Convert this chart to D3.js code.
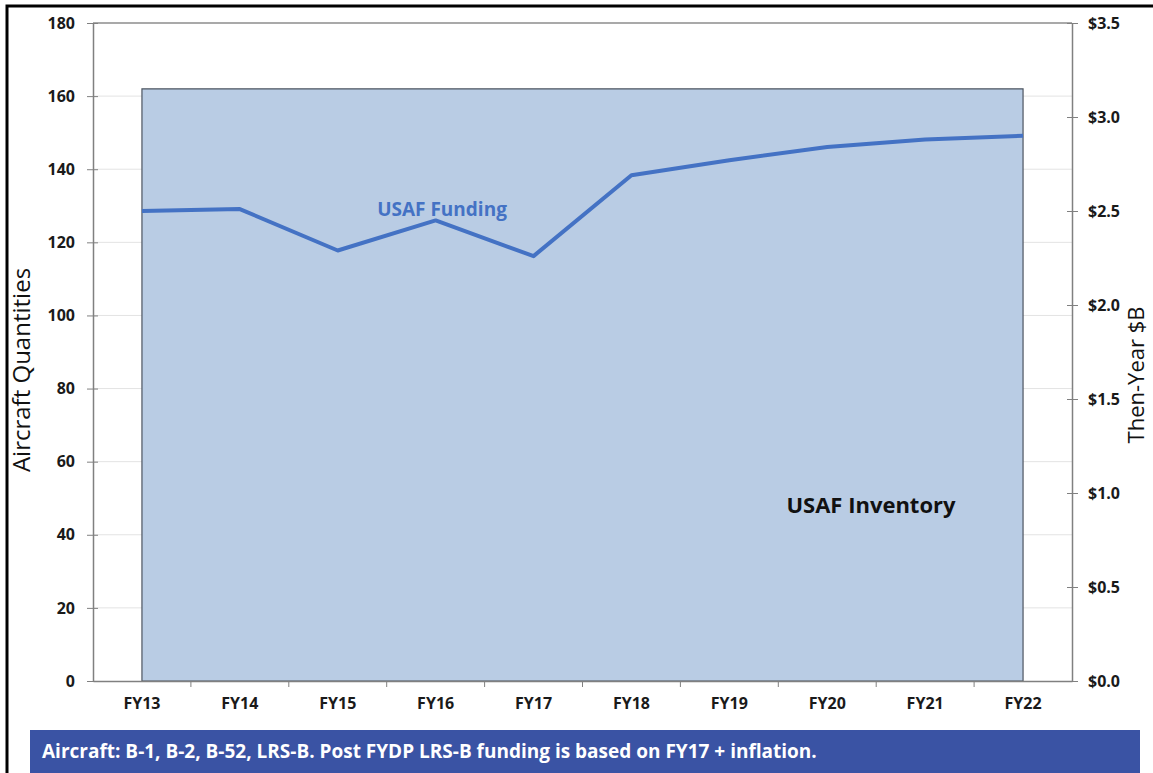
<!DOCTYPE html>
<html>
<head>
<meta charset="utf-8">
<script src="https://cdn.jsdelivr.net/npm/d3@7"></script>
<style>
  body { margin: 0; background: #fff; }
  svg text { font-family: "Open Sans", sans-serif; }
</style>
</head>
<body>
<svg class="chart" width="1153" height="773"></svg>
<script>
// data
var years = ['FY13','FY14','FY15','FY16','FY17','FY18','FY19','FY20','FY21','FY22'];
var inventory = [162,162,162,162,162,162,162,162,162,162];   // aircraft
var funding = [2.50,2.51,2.29,2.45,2.26,2.69,2.77,2.84,2.88,2.90]; // then-year $B
var leftTicks = [0,20,40,60,80,100,120,140,160,180];
var rightTicks = [0,0.5,1.0,1.5,2.0,2.5,3.0,3.5];
var footNote = 'Aircraft: B-1, B-2, B-52, LRS-B. Post FYDP LRS-B funding is based on FY17 + inflation.';

var width = 1153, height = 773;
var margin = ({ top: 23, right: 81, bottom: 92, left: 93 });

var svg = d3.select('.chart');

// outer frame
svg.append('rect')
  .attr('x', 7).attr('y', 6)
  .attr('width', width + 20).attr('height', height + 20)
  .style('fill', 'none').style('stroke', '#000').style('stroke-width', 3);

var xScale = d3.scaleBand()
  .domain(years)
  .range([margin.left, width - margin.right]);

var yLeft = d3.scaleLinear()
  .domain([0, 180])
  .range([height - margin.bottom, margin.top]);

var yRight = d3.scaleLinear()
  .domain([0, 3.5])
  .range([height - margin.bottom, margin.top]);

var cx = d => xScale(d) + xScale.bandwidth() / 2;

// gridlines
svg.append('g')
  .attr('class', 'grid')
  .selectAll('line')
  .data(leftTicks.slice(1))
  .join('line')
    .attr('x1', margin.left).attr('x2', width - margin.right)
    .attr('y1', d => yLeft(d)).attr('y2', d => yLeft(d))
    .style('stroke', d => d == 180 ? '#8c8c8c' : '#e3e3e3')
    .style('stroke-width', d => d == 180 ? 1.5 : 1);

// inventory area
var area = d3.area()
  .x((d, i) => cx(years[i]))
  .y0(yLeft(0))
  .y1(d => yLeft(d));

svg.append('path')
  .datum(inventory)
  .attr('d', area)
  .style('fill', '#b9cce4')
  .style('stroke', '#4d5560')
  .style('stroke-width', 1.2);

// funding line
var line = d3.line()
  .x((d, i) => cx(years[i]))
  .y(d => yRight(d));

svg.append('path')
  .datum(funding)
  .attr('d', line)
  .style('fill', 'none')
  .style('stroke', '#4472c4')
  .style('stroke-width', 4)
  .style('stroke-linejoin', 'round');

// axes
var leftAxis = d3.axisLeft(yLeft).tickValues(leftTicks).tickSize(6).tickSizeOuter(0).tickPadding(12);
var gl = svg.append('g')
  .attr('class', 'y-axis')
  .attr('transform', `translate(${margin.left},0)`)
  .call(leftAxis);
gl.selectAll('.tick line').attr('x1', 5);

var rightAxis = d3.axisRight(yRight).tickValues(rightTicks).tickSize(6).tickSizeOuter(0).tickPadding(10)
  .tickFormat(d => '$' + d3.format('.1f')(d));
var gr = svg.append('g')
  .attr('class', 'y-axis')
  .attr('transform', `translate(${width - margin.right},0)`)
  .call(rightAxis);
gr.selectAll('.tick line').attr('x1', -5);

var xAxis = d3.axisBottom(xScale).tickSize(0).tickSizeOuter(0).tickPadding(17);
var gx = svg.append('g')
  .attr('class', 'x-axis')
  .attr('transform', `translate(0,${height - margin.bottom})`)
  .call(xAxis);

// category boundary ticks
gx.selectAll('.bound')
  .data(years.slice(1))
  .join('line')
    .attr('class', 'bound')
    .attr('x1', d => xScale(d)).attr('x2', d => xScale(d))
    .attr('y1', 0).attr('y2', 6)
    .style('stroke', '#808080');

svg.selectAll('.domain').style('stroke', '#808080').style('stroke-width', 1.5);
svg.selectAll('.tick line').style('stroke', '#808080');
svg.selectAll('.tick text')
  .style('font-size', '16px')
  .style('font-weight', 'bold')
  .style('fill', '#1a1a1a');

// axis titles
svg.append('text')
  .attr('transform', 'translate(30,370) rotate(-90)')
  .attr('text-anchor', 'middle')
  .style('font-size', '24px')
  .style('fill', '#111')
  .text('Aircraft Quantities');

svg.append('text')
  .attr('transform', 'translate(1144,375) rotate(-90)')
  .attr('text-anchor', 'middle')
  .style('font-size', '22px')
  .style('fill', '#111')
  .text('Then-Year $B');

// series labels
svg.append('text')
  .attr('x', 442).attr('y', 216)
  .attr('text-anchor', 'middle')
  .style('font-size', '19px')
  .style('font-weight', 'bold')
  .style('fill', '#4472c4')
  .text('USAF Funding');

svg.append('text')
  .attr('x', 871).attr('y', 513)
  .attr('text-anchor', 'middle')
  .style('font-size', '22px')
  .style('font-weight', 'bold')
  .style('fill', '#111')
  .text('USAF Inventory');

// footer banner
svg.append('rect')
  .attr('x', 30).attr('y', 730)
  .attr('width', 1110).attr('height', 43)
  .style('fill', '#3a53a4');

svg.append('text')
  .attr('x', 42).attr('y', 758)
  .style('font-size', '19px')
  .style('font-weight', 'bold')
  .style('fill', '#fff')
  .text(footNote);
</script>
</body>
</html>
